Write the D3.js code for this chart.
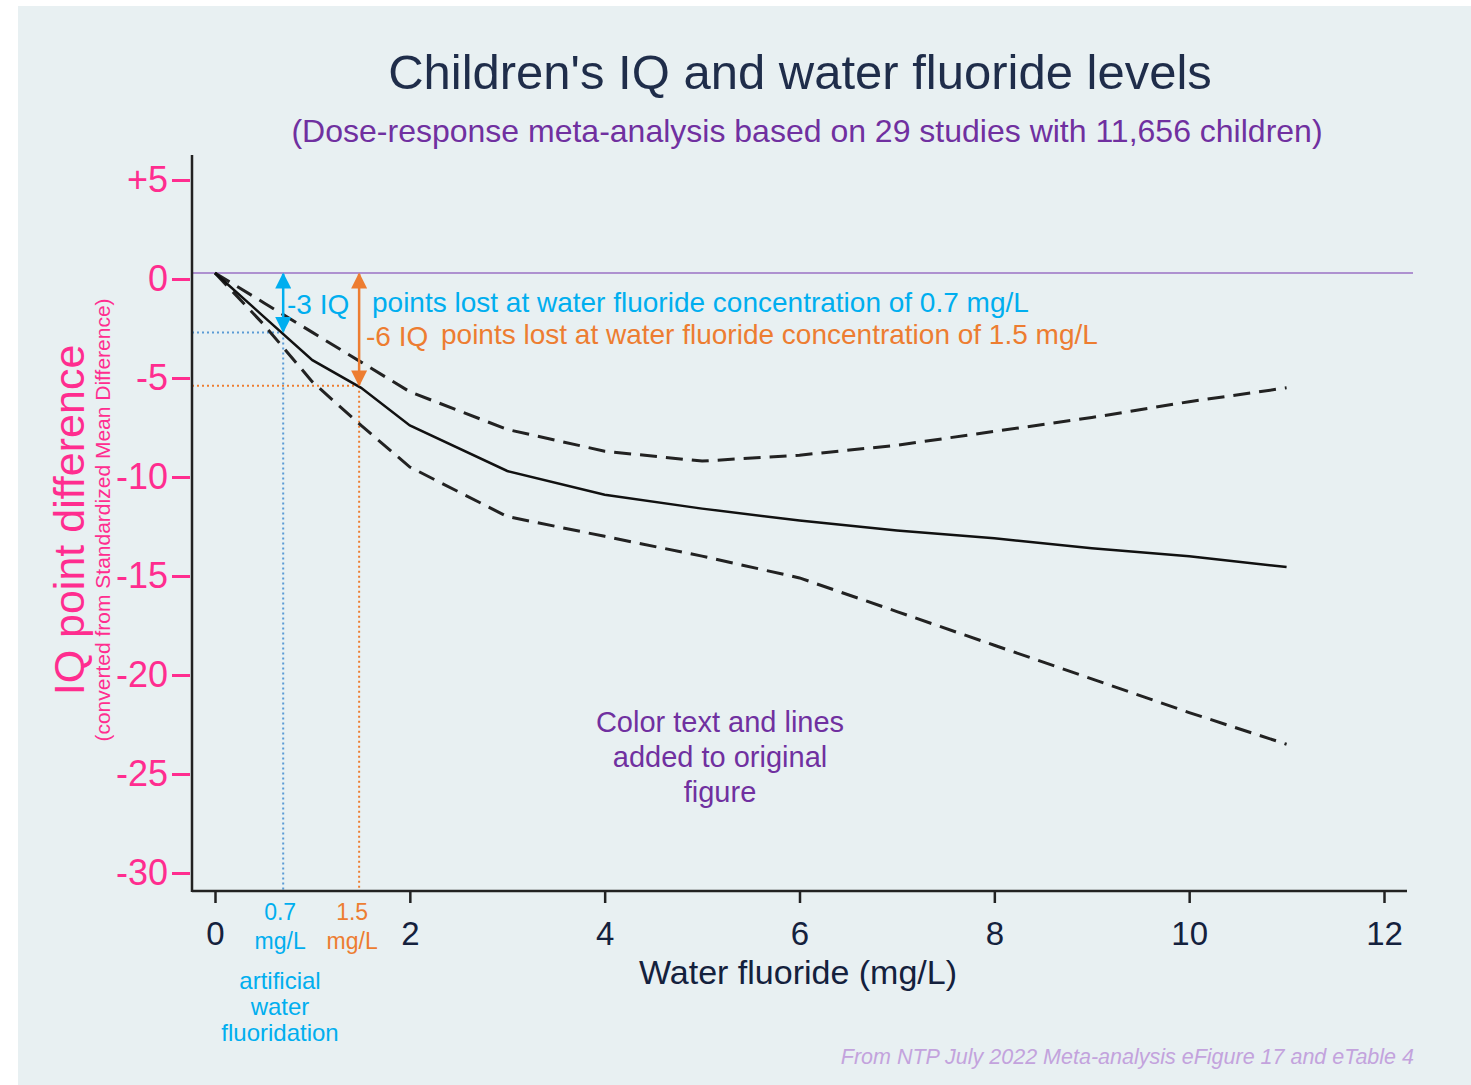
<!DOCTYPE html>
<html lang="en">
<head>
    <meta charset="UTF-8">
    <title>Children's IQ and water fluoride levels</title>
    <script src="https://d3js.org/d3.v7.min.js"></script>
    <style>
        body { margin: 0; background: #fff; font-family: "Liberation Sans", Arial, sans-serif; }
        .axis-x text { font-size: 33px; fill: #14213d; font-family: "Liberation Sans", Arial, sans-serif; }
        .axis-x line, .axis-x path { stroke: #222; stroke-width: 2.5px; }
        .axis-y text { font-size: 36px; fill: #ff2d8f; font-family: "Liberation Sans", Arial, sans-serif; }
        .axis-y line { stroke: #ff2d8f; stroke-width: 3px; }
        .axis-y path { display: none; }
    </style>
</head>
<body>
    <div id="chart"></div>
    <script>
        // values (mg/L vs IQ point difference)
        const fluoride = [0, 0.5, 1, 1.5, 2, 3, 4, 5, 6, 7, 8, 9, 10, 11];
        const estimate = [0, -2.2, -4.4, -5.8, -7.7, -10.0, -11.2, -11.9, -12.5, -13.0, -13.4, -13.9, -14.3, -14.85];
        const upperCI  = [0, -1.5, -3.0, -4.5, -6.0, -7.9, -9.0, -9.5, -9.2, -8.7, -8.0, -7.3, -6.5, -5.8];
        const lowerCI  = [0, -2.6, -5.5, -7.7, -9.8, -12.3, -13.3, -14.3, -15.4, -17.1, -18.8, -20.5, -22.2, -23.8];
        const xTicks = [0, 2, 4, 6, 8, 10, 12];
        const yTicks = [5, 0, -5, -10, -15, -20, -25, -30];
        const yTickLabels = ["+5", "0", "-5", "-10", "-15", "-20", "-25", "-30"];
        const markers = [
            { dose: 0.7, loss: -3, color: "#00aeef", dotted: "#5b9bd5", label: "-3 IQ", text: "points lost at water fluoride concentration of 0.7 mg/L" },
            { dose: 1.5, loss: -5.7, color: "#ed7d31", dotted: "#ed7d31", label: "-6 IQ", text: "points lost at water fluoride concentration of 1.5 mg/L" }
        ];

        const W = 1471, H = 1085;
        const svg = d3.select("#chart").append("svg")
            .attr("width", W).attr("height", H);

        // panel background
        svg.append("rect").attr("x", 18).attr("y", 6).attr("width", W - 18).attr("height", H - 6)
            .attr("fill", "#e8f0f2");

        const x = d3.scaleLinear().domain([0, 12]).range([215, 1384]);
        // the pink tick labels sit a few px below the original curve's zero
        const yTick = d3.scaleLinear().domain([5, -30]).range([180, 873]);
        const y = d3.scaleLinear().domain([0, -30]).range([273, 867]);

        // title & subtitle
        svg.append("text").attr("x", 800).attr("y", 89).attr("text-anchor", "middle")
            .attr("font-size", 49).attr("fill", "#1f2d4a").text("Children's IQ and water fluoride levels");
        svg.append("text").attr("x", 807).attr("y", 142).attr("text-anchor", "middle")
            .attr("font-size", 32).attr("fill", "#7030a0")
            .text("(Dose-response meta-analysis based on 29 studies with 11,656 children)");

        // zero reference line
        svg.append("line").attr("x1", 192).attr("x2", 1413).attr("y1", y(0)).attr("y2", y(0))
            .attr("stroke", "#9b72c4").attr("stroke-width", 1.5);

        // dotted guides
        markers.forEach(m => {
            const gx = x(m.dose) - (m.dose === 1.5 ? 2 : 0);
            svg.append("line").attr("x1", 192).attr("x2", gx)
                .attr("y1", y(m.loss)).attr("y2", y(m.loss))
                .attr("stroke", m.dotted).attr("stroke-width", 2).attr("stroke-dasharray", "2,3");
            svg.append("line").attr("x1", gx).attr("x2", gx)
                .attr("y1", y(m.loss)).attr("y2", 891)
                .attr("stroke", m.dotted).attr("stroke-width", 2).attr("stroke-dasharray", "2,3");
        });

        // curves
        const line = d3.line().x((d, i) => x(fluoride[i])).y(d => y(d));
        svg.append("path").datum(upperCI).attr("d", line).attr("fill", "none")
            .attr("stroke", "#222").attr("stroke-width", 3).attr("stroke-dasharray", "17,9");
        svg.append("path").datum(lowerCI).attr("d", line).attr("fill", "none")
            .attr("stroke", "#222").attr("stroke-width", 3).attr("stroke-dasharray", "17,9");
        svg.append("path").datum(estimate).attr("d", line).attr("fill", "none")
            .attr("stroke", "#111").attr("stroke-width", 2.5);

        // arrows
        const defs = svg.append("defs");
        markers.forEach((m, i) => {
            defs.append("marker").attr("id", "arr" + i).attr("viewBox", "0 0 10 10")
                .attr("refX", 9).attr("refY", 5).attr("markerWidth", 17).attr("markerHeight", 16)
                .attr("markerUnits", "userSpaceOnUse").attr("orient", "auto-start-reverse")
                .append("path").attr("d", "M0,0L10,5L0,10Z").attr("fill", m.color);
            const gx = x(m.dose) - (m.dose === 1.5 ? 2 : 0);
            svg.append("line").attr("x1", gx).attr("x2", gx)
                .attr("y1", y(0) + 1).attr("y2", y(m.loss) - 1)
                .attr("stroke", m.color).attr("stroke-width", 2.5)
                .attr("marker-start", "url(#arr" + i + ")").attr("marker-end", "url(#arr" + i + ")");
        });

        // annotation texts
        svg.append("text").attr("x", 287).attr("y", 314).attr("font-size", 28).attr("fill", markers[0].color).text(markers[0].label);
        svg.append("text").attr("x", 372).attr("y", 312).attr("font-size", 28).attr("fill", markers[0].color).text(markers[0].text);
        svg.append("text").attr("x", 366).attr("y", 346).attr("font-size", 28).attr("fill", markers[1].color).text(markers[1].label);
        svg.append("text").attr("x", 441).attr("y", 344).attr("font-size", 28).attr("fill", markers[1].color).text(markers[1].text);

        // axes
        svg.append("g").attr("class", "axis-x").attr("transform", "translate(0,891)")
            .call(d3.axisBottom(x).tickValues(xTicks).tickSize(12).tickSizeOuter(0).tickPadding(19))
            .select(".domain").attr("d", "M192,0H1407");
        svg.append("line").attr("x1", 192).attr("x2", 192).attr("y1", 155).attr("y2", 892)
            .attr("stroke", "#222").attr("stroke-width", 2.5);
        svg.append("g").attr("class", "axis-y").attr("transform", "translate(190,0)")
            .call(d3.axisLeft(yTick).tickValues(yTicks).tickSize(18).tickPadding(4)
                .tickFormat((d, i) => yTickLabels[i]));

        // axis titles
        svg.append("text").attr("x", 798).attr("y", 984).attr("text-anchor", "middle")
            .attr("font-size", 34).attr("fill", "#14213d").text("Water fluoride (mg/L)");
        svg.append("text").attr("transform", "translate(84,520) rotate(-90)").attr("text-anchor", "middle")
            .attr("font-size", 43).attr("fill", "#ff2d8f").text("IQ point difference");
        svg.append("text").attr("transform", "translate(110,520) rotate(-90)").attr("text-anchor", "middle")
            .attr("font-size", 21).attr("fill", "#ff2d8f").text("(converted from Standardized Mean Difference)");

        // dose labels under the x axis
        markers.forEach(m => {
            const cx = x(m.dose) - (m.dose === 0.7 ? 3 : 9);
            svg.append("text").attr("x", cx).attr("y", 920).attr("text-anchor", "middle")
                .attr("font-size", 23).attr("fill", m.color).text(m.dose);
            svg.append("text").attr("x", cx).attr("y", 949).attr("text-anchor", "middle")
                .attr("font-size", 23).attr("fill", m.color).text("mg/L");
        });
        ["artificial", "water", "fluoridation"].forEach((t, i) => {
            svg.append("text").attr("x", 280).attr("y", 989 + i * 26).attr("text-anchor", "middle")
                .attr("font-size", 24).attr("fill", "#00aeef").text(t);
        });

        // note in plot
        ["Color text and lines", "added to original", "figure"].forEach((t, i) => {
            svg.append("text").attr("x", 720).attr("y", 732 + i * 35).attr("text-anchor", "middle")
                .attr("font-size", 29).attr("fill", "#7030a0").text(t);
        });

        // source
        svg.append("text").attr("x", 1414).attr("y", 1064).attr("text-anchor", "end")
            .attr("font-size", 21.5).attr("font-style", "italic").attr("fill", "#c3a3dd")
            .text("From NTP July 2022 Meta-analysis eFigure 17 and eTable 4");
    </script>
</body>
</html>
